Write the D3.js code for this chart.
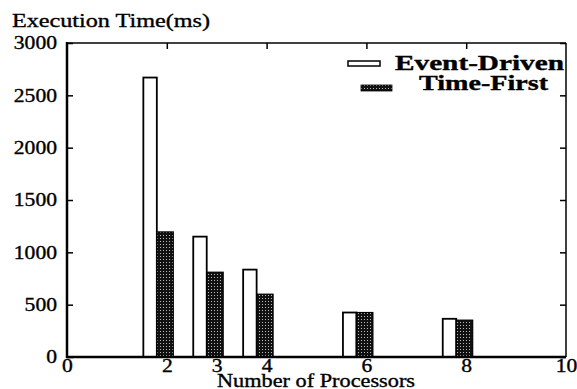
<!DOCTYPE html>
<html>
<head>
<meta charset="utf-8">
<script src="https://cdn.jsdelivr.net/npm/d3@7"></script>
<style>
  body { margin: 0; background: #fff; }
  text { font-family: "Liberation Serif", "DejaVu Serif", serif; fill: #000; stroke: #000; stroke-width: 0.35px; }
</style>
</head>
<body>
<div id="chart"></div>
<script>
// data
const processors = [2, 3, 4, 6, 8];
const eventDriven = [2670, 1150, 835, 425, 365];
const timeFirst = [1195, 810, 600, 425, 352];
const xTicks = [0, 2, 3, 4, 6, 8, 10];
const yTicks = [0, 500, 1000, 1500, 2000, 2500, 3000];
const topTicks = [2, 4, 6, 8];
const seriesNames = ["Event-Driven", "Time-First"];

const width = 577;
const height = 389;
const margin = { top: 43, right: 11, bottom: 32, left: 67 };
const stretch = 1.2; // the scan is wider than tall

const x = d3.scaleLinear()
    .domain([0, 10])
    .range([margin.left, width - margin.right]);

const y = d3.scaleLinear()
    .domain([0, 3000])
    .range([height - margin.bottom, margin.top]);

const svg = d3.select("#chart")
    .append("svg")
    .attr("width", width)
    .attr("height", height);

// dotted dark fill
const pat = svg.append("defs").append("pattern")
    .attr("id", "dots")
    .attr("width", 3)
    .attr("height", 3)
    .attr("patternUnits", "userSpaceOnUse");
pat.append("rect").attr("width", 3).attr("height", 3).attr("fill", "#111");
pat.append("rect").attr("x", 1).attr("y", 1).attr("width", 1).attr("height", 1).attr("fill", "#bbb");

// bars
const x0 = x(0);
svg.selectAll(".ed")
    .data(processors)
    .enter()
    .append("rect")
    .attr("class", "ed")
    .attr("x", d => x(d - 0.47))
    .attr("width", x(0.27) - x0)
    .attr("y", (d, i) => y(eventDriven[i]))
    .attr("height", (d, i) => y(0) - y(eventDriven[i]))
    .attr("fill", "#fff")
    .attr("stroke", "#000")
    .attr("stroke-width", 1.8);

svg.selectAll(".tf")
    .data(processors)
    .enter()
    .append("rect")
    .attr("class", "tf")
    .attr("x", d => x(d - 0.2))
    .attr("width", x(0.33) - x0)
    .attr("y", (d, i) => y(timeFirst[i]))
    .attr("height", (d, i) => y(0) - y(timeFirst[i]))
    .attr("fill", "url(#dots)")
    .attr("stroke", "#000")
    .attr("stroke-width", 1.2);

// Y axis left
const yAxis = svg.append("g")
    .attr("transform", `translate(${margin.left},0)`)
    .call(d3.axisLeft(y).tickValues(yTicks).tickFormat(d3.format("d"))
        .tickSizeInner(-6).tickSizeOuter(0).tickPadding(0));
yAxis.select(".domain").remove();
yAxis.selectAll("line").attr("stroke-width", 1.5);
yAxis.selectAll("text")
    .attr("x", -10 / stretch)
    .attr("transform", `scale(${stretch},1)`)
    .style("font-size", "18px");

// Y axis right
const yAxisR = svg.append("g")
    .attr("transform", `translate(${width - margin.right},0)`)
    .call(d3.axisRight(y).tickValues(yTicks).tickSizeInner(-6).tickSizeOuter(0).tickFormat(""));
yAxisR.select(".domain").remove();
yAxisR.selectAll("line").attr("stroke-width", 1.5);

// X axis bottom
const xAxis = svg.append("g")
    .attr("transform", `translate(0,${height - margin.bottom})`)
    .call(d3.axisBottom(x).tickValues(xTicks).tickSize(0).tickPadding(2).tickFormat(d3.format("d")));
xAxis.select(".domain").remove();
xAxis.selectAll("text")
    .attr("transform", `scale(${stretch},1)`)
    .style("font-size", "18px");

// X axis top
const xAxisT = svg.append("g")
    .attr("transform", `translate(0,${margin.top})`)
    .call(d3.axisTop(x).tickValues(topTicks).tickSizeInner(-6).tickSizeOuter(0).tickFormat(""));
xAxisT.select(".domain").remove();
xAxisT.selectAll("line").attr("stroke-width", 1.5);

// frame
const frame = svg.append("g").attr("stroke", "#000").attr("fill", "none");
frame.append("line")
    .attr("x1", x(0)).attr("x2", x(10)).attr("y1", y(3000)).attr("y2", y(3000))
    .attr("stroke-width", 1.5);
frame.append("line")
    .attr("x1", x(10)).attr("x2", x(10)).attr("y1", y(3000)).attr("y2", y(0))
    .attr("stroke-width", 1.5);
frame.append("line")
    .attr("x1", x(0)).attr("x2", x(0)).attr("y1", y(3000) - 1).attr("y2", y(0) + 1)
    .attr("stroke-width", 2.5);
frame.append("line")
    .attr("x1", x(0) - 1).attr("x2", x(10)).attr("y1", y(0)).attr("y2", y(0))
    .attr("stroke-width", 2.5);

// titles
svg.append("text")
    .attr("x", 12)
    .attr("y", 27)
    .attr("textLength", 198)
    .attr("lengthAdjust", "spacingAndGlyphs")
    .style("font-size", "19px")
    .text("Execution Time(ms)");

svg.append("text")
    .attr("x", 217)
    .attr("y", 387)
    .attr("textLength", 198)
    .attr("lengthAdjust", "spacingAndGlyphs")
    .style("font-size", "18px")
    .text("Number of Processors");

// legend
const legend = svg.append("g");
legend.append("rect")
    .attr("x", 348).attr("y", 61).attr("width", 32).attr("height", 5)
    .attr("fill", "#fff").attr("stroke", "#000").attr("stroke-width", 1.5);
legend.append("rect")
    .attr("x", 361).attr("y", 85).attr("width", 31).attr("height", 6)
    .attr("fill", "url(#dots)").attr("stroke", "#000").attr("stroke-width", 0.8);
legend.append("text")
    .attr("x", 395).attr("y", 70)
    .attr("textLength", 169)
    .attr("lengthAdjust", "spacingAndGlyphs")
    .style("font-size", "20px")
    .style("font-weight", "bold")
    .text(seriesNames[0]);
legend.append("text")
    .attr("x", 419).attr("y", 90)
    .attr("textLength", 129)
    .attr("lengthAdjust", "spacingAndGlyphs")
    .style("font-size", "20px")
    .style("font-weight", "bold")
    .text(seriesNames[1]);
</script>
</body>
</html>
